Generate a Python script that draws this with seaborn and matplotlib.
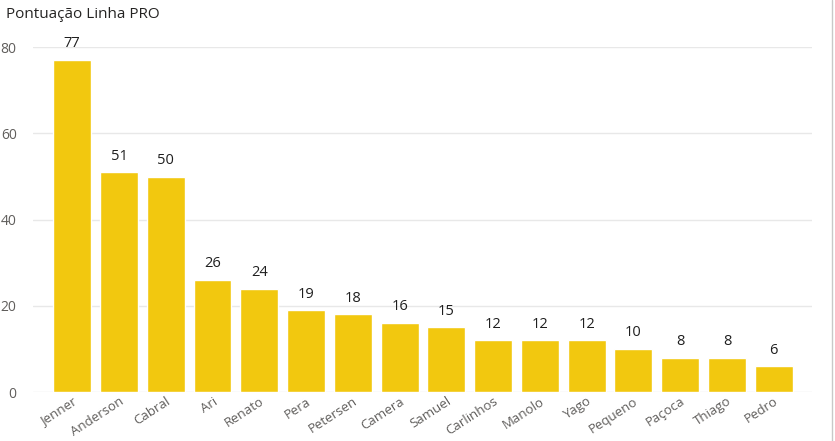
import pandas as pd
import matplotlib.pyplot as plt
import seaborn as sns

jogadores = ['Jenner', 'Anderson', 'Cabral', 'Ari', 'Renato', 'Pera', 'Petersen', 'Camera',
             'Samuel', 'Carlinhos', 'Manolo', 'Yago', 'Pequeno', 'Paçoca', 'Thiago', 'Pedro']
pontos = [77, 51, 50, 26, 24, 19, 18, 16, 15, 12, 12, 12, 10, 8, 8, 6]

df = pd.DataFrame({'Jogador': jogadores, 'Pontos': pontos})

sns.set_style('white')
plt.rcParams['font.family'] = ['Open Sans', 'DejaVu Sans']

fig = plt.figure(figsize=(8.35, 4.41), dpi=100)
ax = fig.add_axes([0.04, 0.111, 0.932, 0.782])

sns.barplot(data=df, x='Jogador', y='Pontos', color='#F2C80F', saturation=1, width=0.81, ax=ax)

for i, v in enumerate(pontos):
    ax.text(i, v + 2.0, str(v), ha='center', va='bottom', fontsize=10.5, color='#1F1F1F', clip_on=False)

ax.set_ylim(0, 80)
ax.set_xlim(-0.83, 15.81)
ax.set_yticks([0, 20, 40, 60, 80])
ax.yaxis.grid(True, color='#E8E8E8', linewidth=1)
ax.set_axisbelow(True)
for s in ax.spines.values():
    s.set_visible(False)
ax.tick_params(axis='y', colors='#605E5C', labelsize=10, length=0, pad=12)
ax.tick_params(axis='x', colors='#605E5C', labelsize=9.5, length=0, pad=2)
plt.setp(ax.get_xticklabels(), rotation=33, ha='right', rotation_mode='anchor')
ax.set_xlabel('')
ax.set_ylabel('')

fig.text(0.007, 0.968, 'Pontuação Linha PRO', fontsize=11, color='#252423', ha='left', va='center')
fig.add_artist(plt.Line2D([0.997, 0.997], [0.0, 1.0], color='#C8C8C8', linewidth=1))

plt.savefig('out.png', dpi=100)
